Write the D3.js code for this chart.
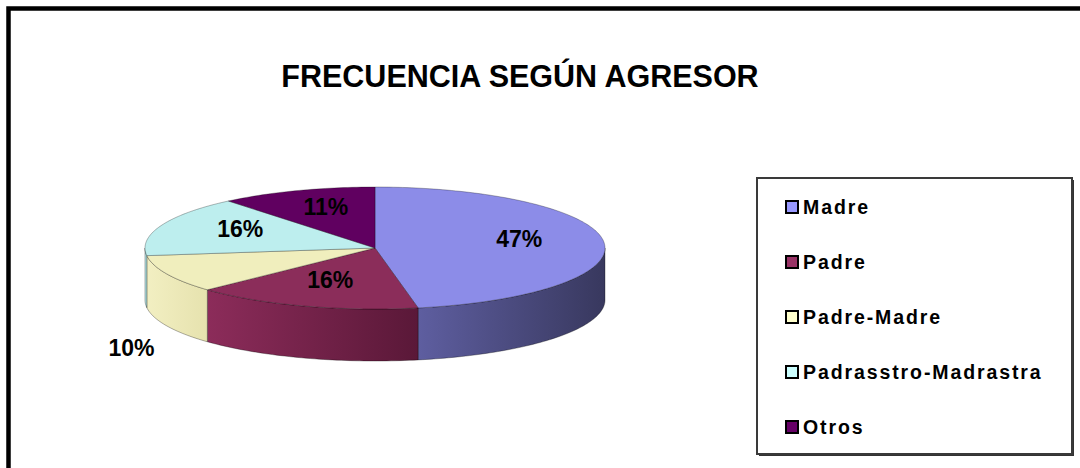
<!DOCTYPE html>
<html>
<head>
<meta charset="utf-8">
<script src="https://cdn.jsdelivr.net/npm/d3@7"></script>
<style>
  body { margin: 0; background: #fff; }
  svg { display: block; font-family: Arial, "Liberation Sans", sans-serif; }
</style>
</head>
<body>
<svg id="chart" width="1080" height="468"></svg>
<script>
// datos
const categories = ['Madre', 'Padre', 'Padre-Madre', 'Padrasstro-Madrastra', 'Otros'];
const values = [47, 16, 10, 16, 11];
const topColors = ['#8c8ce8', '#8b2d5a', '#f0eebd', '#bdeeee', '#600060'];
const sideLight = ['#5e5ea0', '#8c2c5a', '#f2efc2', '#bfeeee', '#5a005a'];
const sideDark = ['#38385e', '#5a1838', '#e6e2ae', '#a8dcdc', '#400040'];
const legendColors = ['#9999ff', '#993366', '#ffffcc', '#ccffff', '#660066'];
const outsideLabel = [false, false, true, false, false];
const title = 'FRECUENCIA SEGÚN AGRESOR';

const svg = d3.select('#chart');
const W = 1080, H = 468;

// marco exterior
svg.append('rect')
    .attr('x', 8.5).attr('y', 8.5)
    .attr('width', W + 40).attr('height', H + 40)
    .attr('fill', 'none')
    .attr('stroke', '#000')
    .attr('stroke-width', 4.5);

svg.append('text')
    .attr('x', 520).attr('y', 87)
    .attr('text-anchor', 'middle')
    .attr('font-size', 30.5)
    .attr('font-weight', 'bold')
    .text(title);

// pastel 3D
const cx = 375, cy = 248, rx = 230, ry = 61, depth = 52;
const pie = d3.pie().sort(null).value(d => d);
const arcs = pie(values);

function pt(a, k = 1, dy = 0) {
    return [cx + rx * k * Math.sin(a), cy - ry * k * Math.cos(a) + dy];
}
function arcPts(a0, a1, dy = 0) {
    const n = Math.max(2, Math.ceil((a1 - a0) / 0.02));
    return d3.range(n + 1).map(i => pt(a0 + (a1 - a0) * i / n, 1, dy));
}

const defs = svg.append('defs');
arcs.forEach((d, i) => {
    const g = defs.append('linearGradient')
        .attr('id', 'side' + i)
        .attr('x1', 0).attr('x2', 1).attr('y1', 0).attr('y2', 0);
    g.append('stop').attr('offset', 0).attr('stop-color', sideLight[i]);
    g.append('stop').attr('offset', 1).attr('stop-color', sideDark[i]);
});

const line = d3.line();
const pieG = svg.append('g');

// caras laterales (mitad frontal)
const sides = pieG.append('g').classed('sides', true);
arcs.forEach((d, i) => {
    const a0 = Math.max(d.startAngle, Math.PI / 2);
    const a1 = Math.min(d.endAngle, 3 * Math.PI / 2);
    if (a1 <= a0) return;
    const topEdge = arcPts(a0, a1);
    const botEdge = arcPts(a0, a1, depth).reverse();
    sides.append('path')
        .attr('d', line(topEdge.concat(botEdge)) + 'Z')
        .attr('fill', `url(#side${i})`)
        .attr('stroke', 'rgba(0,0,0,0.45)')
        .attr('stroke-width', 0.7);
});

// caras superiores
const tops = pieG.append('g').classed('tops', true);
arcs.forEach((d, i) => {
    const pts = [[cx, cy]].concat(arcPts(d.startAngle, d.endAngle));
    tops.append('path')
        .attr('d', line(pts) + 'Z')
        .attr('fill', topColors[i])
        .attr('stroke', 'rgba(0,0,0,0.4)')
        .attr('stroke-width', 0.7);
});

// etiquetas
const labels = pieG.append('g').classed('labels', true);
arcs.forEach((d, i) => {
    const mid = (d.startAngle + d.endAngle) / 2;
    let p;
    if (outsideLabel[i]) {
        p = pt(mid, 1.17, depth + 18);
    } else {
        p = pt(mid, 0.63, -5);
    }
    labels.append('text')
        .attr('x', p[0]).attr('y', p[1])
        .attr('text-anchor', 'middle')
        .attr('dominant-baseline', 'central')
        .attr('font-size', 23)
        .attr('font-weight', 'bold')
        .attr('fill', '#000')
        .text(Math.round(d.value / d3.sum(values) * 100) + '%');
});

// leyenda
const lg = svg.append('g');
lg.append('rect')
    .attr('x', 759).attr('y', 180)
    .attr('width', 315).attr('height', 276)
    .attr('fill', '#333');
lg.append('rect')
    .attr('x', 757).attr('y', 178)
    .attr('width', 315).attr('height', 276)
    .attr('fill', '#fff')
    .attr('stroke', '#3a3a3a')
    .attr('stroke-width', 2);

const rowY = d3.scalePoint().domain(categories).range([207, 427]);
categories.forEach((c, i) => {
    const y = rowY(c);
    lg.append('rect')
        .attr('x', 786).attr('y', y - 6)
        .attr('width', 12).attr('height', 12)
        .attr('fill', legendColors[i])
        .attr('stroke', '#000')
        .attr('stroke-width', 2);
    lg.append('text')
        .attr('x', 803).attr('y', y + 7)
        .attr('font-size', 19.5)
        .attr('font-weight', 'bold')
        .attr('letter-spacing', 1.9)
        .text(c);
});
</script>
</body>
</html>
